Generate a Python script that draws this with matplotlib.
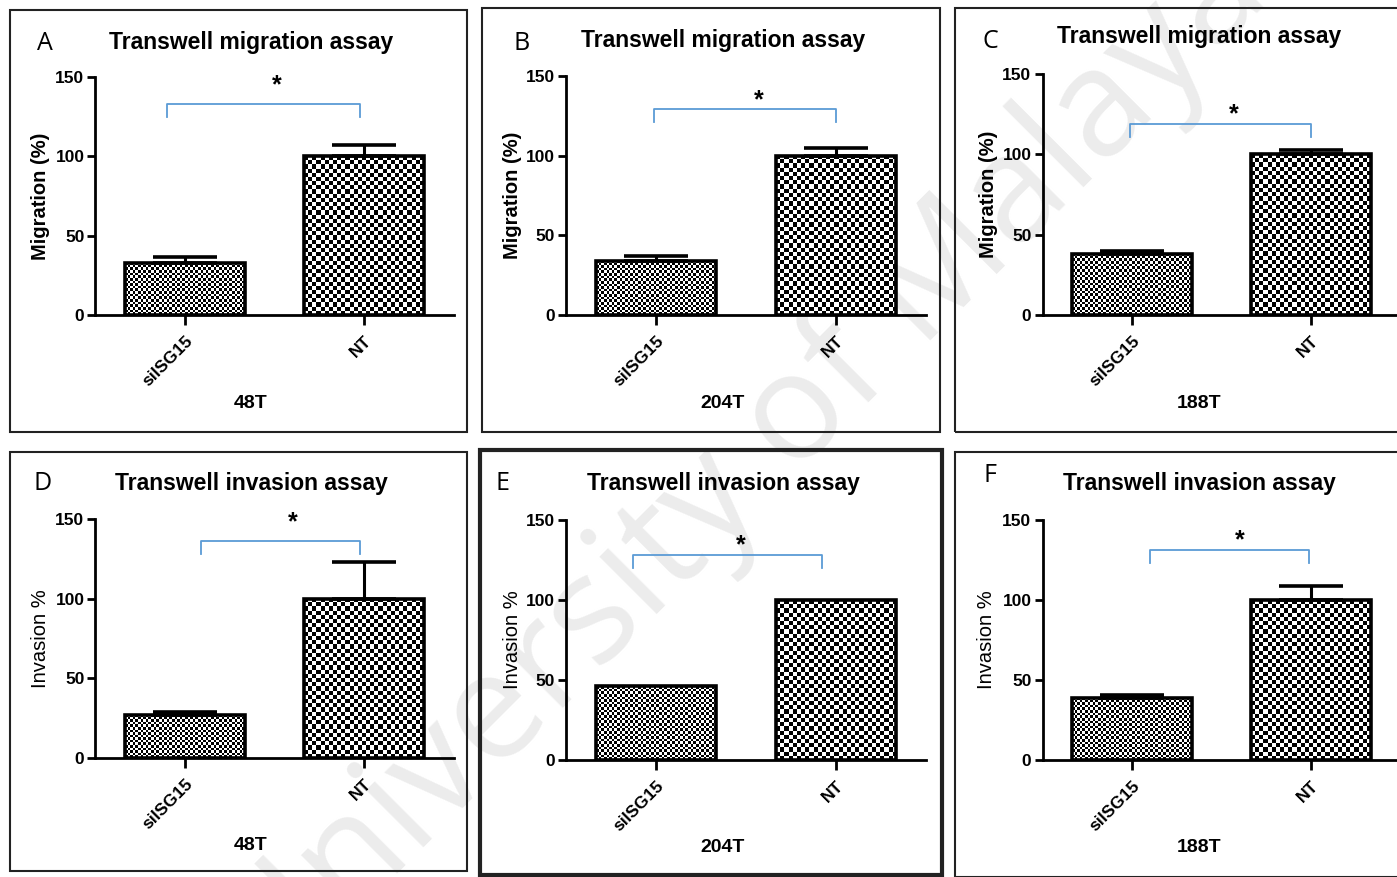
import numpy as np
import matplotlib
matplotlib.use("Agg")
import matplotlib.pyplot as plt
from matplotlib.patches import Rectangle

plt.rcParams['font.family'] = ['Liberation Sans', 'DejaVu Sans']

# ---- data ----
panel_letters = ['A', 'B', 'C', 'D', 'E', 'F']
titles = ['Transwell migration assay'] * 3 + ['Transwell invasion assay'] * 3
ylabels = ['Migration (%)'] * 3 + ['Invasion %'] * 3
cell_lines = ['48T', '204T', '188T', '48T', '204T', '188T']
groups = ['siISG15', 'NT']
si_mean = [33, 34, 38, 27, 46, 39]
si_err = [3.5, 3, 2, 2, 0, 1.5]
nt_mean = [100, 100, 100, 100, 100, 100]
nt_err = [7, 5, 3, 23, 0, 9]
# significance bracket: left x, right x, top y (data units), star position
br_left = [-0.10, -0.01, -0.01, 0.09, -0.13, 0.10]
br_right = [0.98, 1.00, 1.00, 0.98, 0.92, 0.99]
br_top = [133, 129, 119, 136, 128, 131]
star_x = [0.51, 0.57, 0.57, 0.60, 0.47, 0.60]
star_y = [145, 135, 125, 148, 134, 137]

W, H = 1397, 877
fig = plt.figure(figsize=(W / 100, H / 100), dpi=100)

def fx(px):
    return px / W

def fy(py):
    return 1 - py / H

# watermark behind everything
fig.text(fx(745), fy(470), 'University of Malaya', rotation=45, fontsize=108,
         color='#ececec', family='Open Sans', ha='center', va='center',
         zorder=-5)

# panel frames (figure pixels): x0, y0, x1, y1, lw
frames = [(10, 10, 467, 432, 1.5), (482, 8, 940, 432, 1.5), (955, 8, 1402, 432, 1.5),
          (10, 452, 467, 871, 1.5), (480, 450, 942, 875, 3.0), (955, 452, 1402, 877, 1.5)]
for x0, y0, x1, y1, lw in frames:
    fig.add_artist(Rectangle((fx(x0), fy(y1)), fx(x1 - x0), y1 / H - y0 / H,
                             transform=fig.transFigure, fill=False, ec='#222222', lw=lw))

# axes geometry (pixels): first bar centre, spacing, top, bottom
geom = [(185, 179, 77, 315), (656, 180, 76, 315), (1132, 179, 74, 315),
        (185, 179, 519, 758), (656, 180, 520, 760), (1132, 179, 520, 760)]
title_pos = [(251, 42), (723, 40), (1199, 37), (251, 484), (723, 484), (1199, 484)]
letter_pos = [(45, 44), (522, 44), (990, 42), (43, 484), (503, 484), (990, 476)]
xlab_y = [403, 403, 403, 845, 848, 848]
ylab_x = [41, 513, 988, 41, 513, 986]


def checker(n_rows, n_cols):
    r = np.arange(n_rows)[:, None]
    c = np.arange(n_cols)[None, :]
    return ((r + c) % 2).astype(float)


for i in range(6):
    c0, sp, top, bot = geom[i]
    left = c0 - 0.5 * sp
    ax = fig.add_axes([fx(left), fy(bot), fx(2 * sp), (bot - top) / H])
    ax.set_facecolor('none')
    ax.set_xlim(-0.5, 1.5)
    ax.set_ylim(0, 150)

    x = np.arange(2)
    means = [si_mean[i], nt_mean[i]]
    errs = [si_err[i], nt_err[i]]
    bars = ax.bar(x, means, width=0.67, facecolor='none', edgecolor='black',
                  linewidth=2.6, zorder=3)
    # checker texture clipped to bars
    cell_px = [2.6, 4.2]
    for b, cp in zip(bars, cell_px):
        bx0, bx1 = b.get_x(), b.get_x() + b.get_width()
        p0 = ax.transData.transform((bx0, 0))
        p1 = ax.transData.transform((bx1, b.get_height()))
        ncol = max(1, int(round((p1[0] - p0[0]) / cp)))
        nrow = max(1, int(round((p1[1] - p0[1]) / cp)))
        im = ax.imshow(checker(nrow, ncol), cmap='gray', extent=(bx0, bx1, 0, b.get_height()),
                       interpolation='nearest', aspect='auto', zorder=2)
        im.set_clip_path(b)
    ax.set_xlim(-0.5, 1.5)
    ax.set_ylim(0, 150)

    for xi, m, e in zip(x, means, errs):
        if e > 0:
            ax.errorbar([xi], [m], yerr=[[0], [e]], fmt='none', ecolor='black',
                        elinewidth=2.2, capsize=23, capthick=2.6, zorder=4)

    # significance bracket
    ax.plot([br_left[i], br_left[i], br_right[i], br_right[i]],
            [br_top[i] - 8, br_top[i], br_top[i], br_top[i] - 8],
            color='#5b9bd5', lw=1.3, clip_on=False, zorder=5)
    ax.text(star_x[i], star_y[i], '*', ha='center', va='center', fontsize=18,
            fontweight='bold')

    for s in ['top', 'right']:
        ax.spines[s].set_visible(False)
    ax.spines['left'].set_linewidth(2)
    ax.spines['bottom'].set_linewidth(2)
    ax.set_yticks([0, 50, 100, 150])
    ax.set_xticks(x)
    ax.set_xticklabels(groups, rotation=45, ha='right', va='top',
                       rotation_mode='anchor', fontsize=12.5, fontweight='bold')
    ax.tick_params(axis='y', direction='out', length=6, width=2, labelsize=12.5, pad=2)
    ax.tick_params(axis='x', direction='out', length=7, width=2, pad=6)
    for t in ax.get_yticklabels():
        t.set_fontweight('bold')

    fig.text(fx(title_pos[i][0]), fy(title_pos[i][1]), titles[i], ha='center',
             va='center', fontsize=16.5, fontweight='bold')
    fig.text(fx(letter_pos[i][0]), fy(letter_pos[i][1]), panel_letters[i], ha='center',
             va='center', fontsize=18, family='Open Sans')
    fig.text(fx(title_pos[i][0]), fy(xlab_y[i]), cell_lines[i], ha='center',
             va='center', fontsize=14, fontweight='bold')
    fig.text(fx(ylab_x[i]), fy((top + bot) / 2), ylabels[i], ha='center',
             va='center', rotation=90, fontsize=14.5,
             fontweight='bold' if i < 3 else 'normal')

fig.savefig('out.png', dpi=100, facecolor='white')
